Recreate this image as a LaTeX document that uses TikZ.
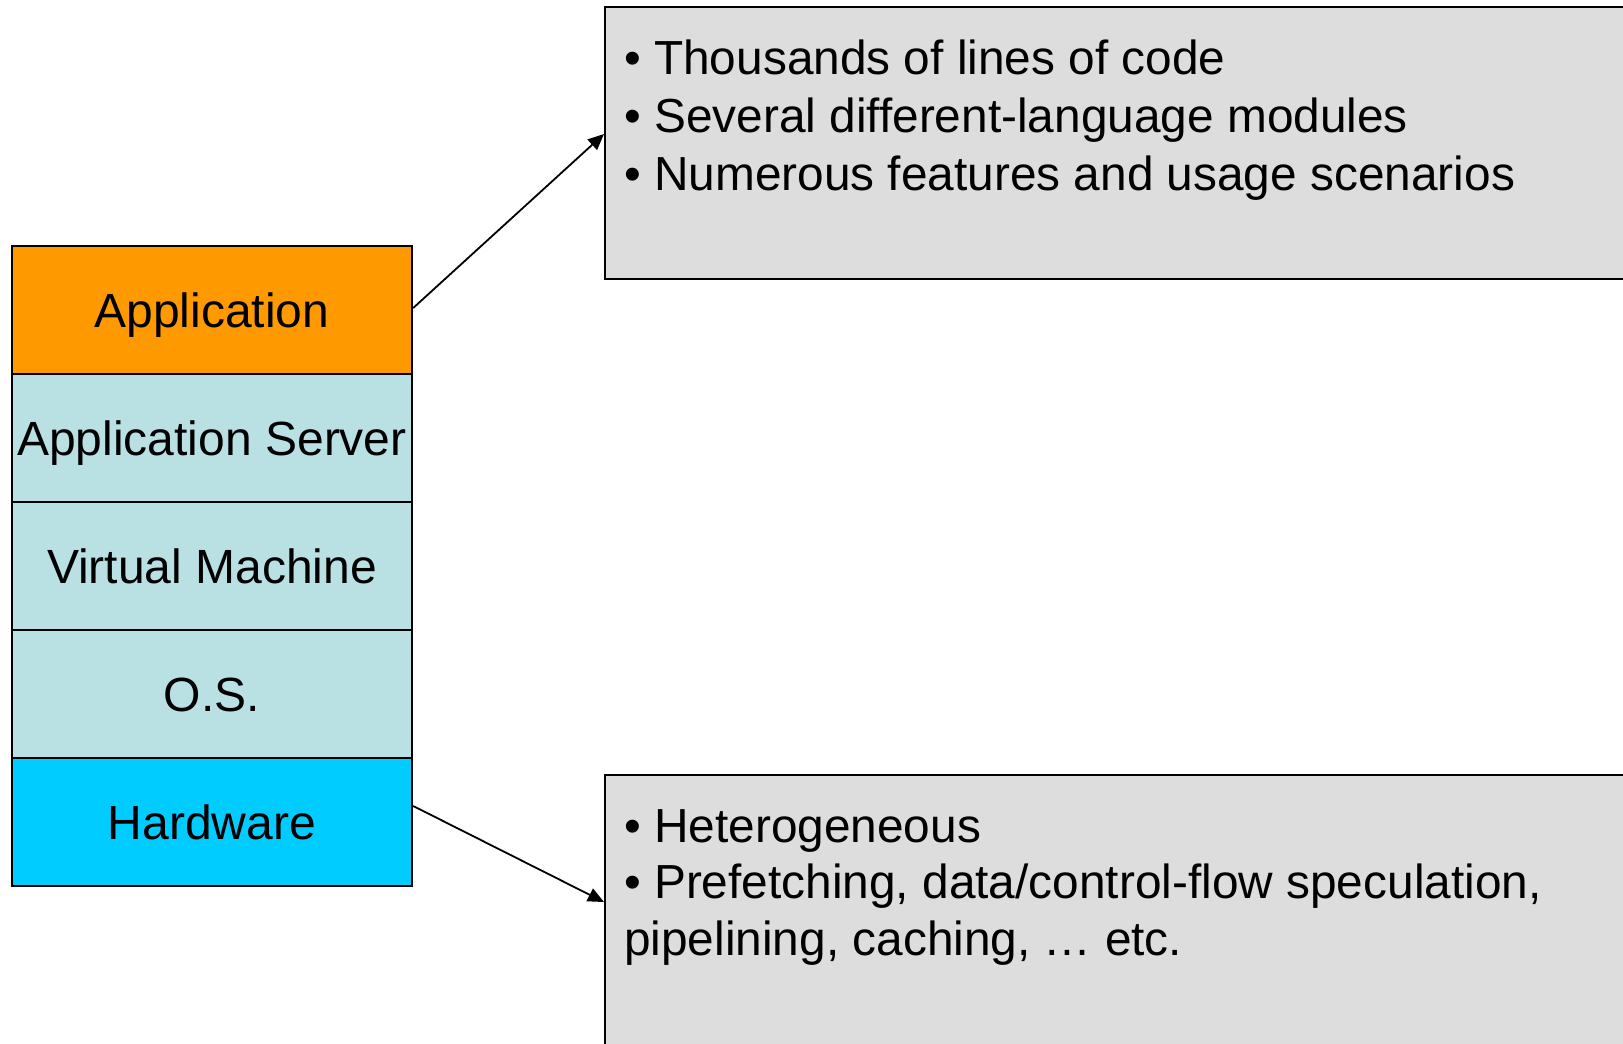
\documentclass[tikz,border=0pt]{standalone}
\usepackage{fontspec}
\setmainfont{Liberation Sans}
\usetikzlibrary{arrows.meta}
\definecolor{apporange}{RGB}{255,153,0}
\definecolor{layerteal}{RGB}{185,224,227}
\definecolor{hwcyan}{RGB}{0,204,255}
\definecolor{notegrey}{RGB}{221,221,221}
\tikzset{
  layer/.style={draw=black, line width=2.4pt, minimum width=400pt, minimum height=128pt,
    inner sep=0pt, text height=34.4pt, text depth=0pt,
    font=\fontsize{48}{58}\selectfont},
  notebox/.style={draw=black, fill=notegrey, line width=2.4pt, anchor=north west, inner sep=0pt},
  noteline/.style={anchor=base west, inner sep=0pt, font=\fontsize{47.8}{57}\selectfont},
  link/.style={line width=1.8pt, -{Triangle[length=16pt,width=14pt]}}
}
\begin{document}
\begin{tikzpicture}[x=1pt,y=-1pt]
\useasboundingbox (0,0) rectangle (1623,1044);
\clip (0,0) rectangle (1623,1044);
\fill[white] (0,0) rectangle (1623,1044);

% software/hardware stack
\node[layer, fill=apporange] (app) at (212,310) {Application};
\node[layer, fill=layerteal] (srv) at (212,438) {Application Server};
\node[layer, fill=layerteal] (vm)  at (212,566) {Virtual Machine};
\node[layer, fill=layerteal] (os)  at (212,694) {O.S.};
\node[layer, fill=hwcyan]    (hw)  at (212,822) {Hardware};

% note boxes, running off the right edge
\node[notebox, minimum width=1060pt, minimum height=272pt] (top) at (604,6) {};
\node[notebox, minimum width=1060pt, minimum height=300pt] (bot) at (604,774) {};

\node[noteline] (t1) at (624,74)  {• Thousands of lines of code};
\node[noteline] (t2) at (624,132) {• Several different-language modules};
\node[noteline] (t3) at (624,190) {• Numerous features and usage scenarios};

\node[noteline] (b1) at (624,842) {• Heterogeneous};
\node[noteline] (b2) at (624,898) {• Prefetching, data/control-flow speculation,};
\node[noteline] (b3) at (624,955) {pipelining, caching, … etc.};

% connectors
\coordinate (appout) at (app.east |- 0,308);
\coordinate (topin)  at (top.west |- 0,134);
\coordinate (hwout)  at (hw.east |- 0,806);
\coordinate (botin)  at (bot.west |- 0,902);
\draw[link] (appout) -- (topin);
\draw[link] (hwout) -- (botin);
\end{tikzpicture}
\end{document}
